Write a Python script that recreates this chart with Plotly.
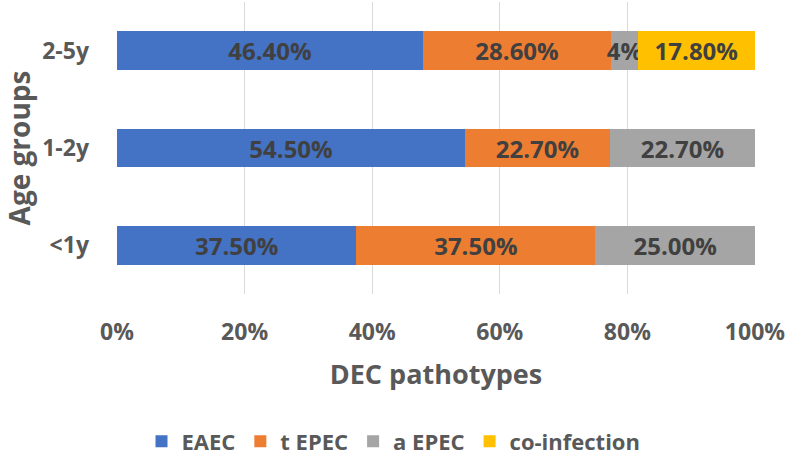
import plotly.graph_objects as go

age_groups = ["<1y", "1-2y", "2-5y"]
series_names = ["EAEC", "t EPEC", "a EPEC", "co-infection"]
eaec = [37.5, 54.5, 46.4]
t_epec = [37.5, 22.7, 28.6]
a_epec = [25.0, 22.7, 4.0]
co_infection = [0, 0, 17.8]
eaec_labels = ["37.50%", "54.50%", "46.40%"]
t_epec_labels = ["37.50%", "22.70%", "28.60%"]
a_epec_labels = ["25.00%", "22.70%", "4%"]
co_infection_labels = ["", "", "17.80%"]
x_ticks = [0, 20, 40, 60, 80, 100]
x_tick_labels = ["0%", "20%", "40%", "60%", "80%", "100%"]

colors = ["#4472C4", "#ED7D31", "#A5A5A5", "#FFC000"]
FONT = "Open Sans"

fig = go.Figure()
for name, vals, labels, col in zip(
    series_names,
    [eaec, t_epec, a_epec, co_infection],
    [eaec_labels, t_epec_labels, a_epec_labels, co_infection_labels],
    colors,
):
    fig.add_trace(go.Bar(
        y=age_groups, x=vals, name=name, orientation="h",
        marker=dict(color=col, line=dict(width=0)),
        text=labels, texttemplate="%{text}",
        textposition="inside", insidetextanchor="middle",
        constraintext="none", textangle=0,
        textfont=dict(family=FONT, size=24, color="#404040", weight="bold"),
    ))

fig.update_layout(
    barmode="stack", barnorm="percent", bargap=0.6,
    width=787, height=458,
    margin=dict(l=117, r=32, t=2, b=164, autoexpand=False),
    paper_bgcolor="white", plot_bgcolor="white",
    font=dict(family=FONT, color="#595959"),
    legend=dict(
        orientation="h", x=0.5, xanchor="center", xref="container",
        y=-0.505, yanchor="middle", yref="paper",
        font=dict(family=FONT, size=22, color="#595959", weight="bold"),
        traceorder="normal",
    ),
    showlegend=True,
)
fig.update_xaxes(
    range=[0, 100.01], tickmode="array", tickvals=x_ticks, ticktext=x_tick_labels,
    showgrid=True, gridcolor="#D9D9D9", gridwidth=1.3,
    zeroline=False, showline=False, ticks="", automargin=False,
    tickfont=dict(family=FONT, size=23, color="#595959", weight="bold"),
    ticklabelstandoff=22,
    title=dict(text="DEC pathotypes", standoff=19,
               font=dict(family=FONT, size=27, color="#595959", weight="bold")),
)
fig.update_yaxes(
    showgrid=False, zeroline=False, showline=False, ticks="", automargin=False,
    tickfont=dict(family=FONT, size=23, color="#595959", weight="bold"),
    ticklabelstandoff=27,
    title=dict(text="Age groups", standoff=8,
               font=dict(family=FONT, size=28, color="#595959", weight="bold")),
)

fig.write_html(
    "out.html",
    config={"displayModeBar": False},
    post_script="document.body.style.margin='0';document.body.style.overflow='hidden';",
)
